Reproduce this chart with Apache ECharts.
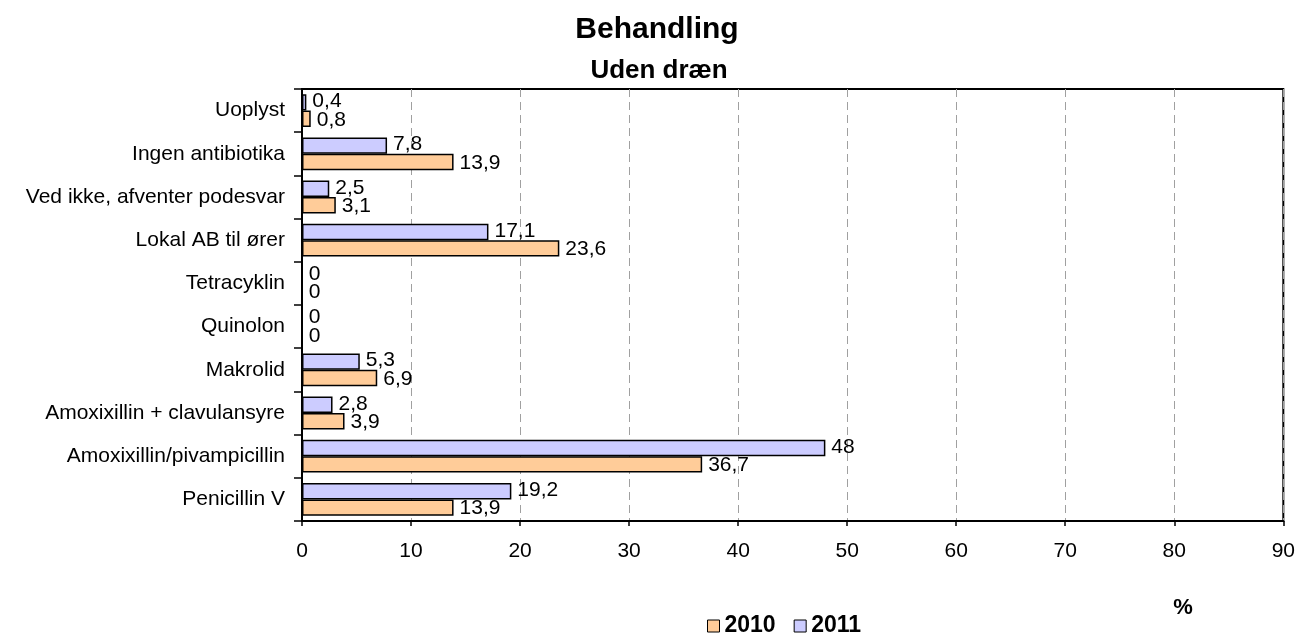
<!DOCTYPE html>
<html>
<head>
<meta charset="utf-8">
<title>Behandling – Uden dræn</title>
<script src="https://cdn.jsdelivr.net/npm/echarts@6/dist/echarts.min.js"></script>
<style>
  html, body { margin: 0; padding: 0; background: #fff; }
  #chart { width: 1298px; height: 635px; }
</style>
</head>
<body>
<div id="chart"></div>
<script>
// Treatment categories, listed bottom to top as drawn on the axis
const categories = [
  'Penicillin V',
  'Amoxixillin/pivampicillin',
  'Amoxixillin + clavulansyre',
  'Makrolid',
  'Quinolon',
  'Tetracyklin',
  'Lokal AB til ører',
  'Ved ikke, afventer podesvar',
  'Ingen antibiotika',
  'Uoplyst'
];

// Share of patients (%) per year
const values2010 = [13.9, 36.7, 3.9, 6.9, 0, 0, 23.6, 3.1, 13.9, 0.8];
const values2011 = [19.2, 48, 2.8, 5.3, 0, 0, 17.1, 2.5, 7.8, 0.4];

const xTicks = { min: 0, max: 90, step: 10 };

const FONT = '"Liberation Sans", Arial, sans-serif';

// Danish decimal comma in the value labels
const fmtComma = p => String(p.value).replace('.', ',');

const chart = echarts.init(document.getElementById('chart'));

const valueLabel = dy => ({
  show: true, position: 'right', distance: 6, offset: [0, dy],
  formatter: fmtComma,
  fontFamily: FONT, fontSize: 21, color: '#000'
});

chart.setOption({
  animation: false,
  textStyle: { fontFamily: FONT, color: '#000' },
  legend: {
    data: ['2010', '2011'],
    left: 702, top: 608,
    padding: 5,
    icon: 'rect',
    itemWidth: 12, itemHeight: 12, itemGap: 18,
    itemStyle: { borderColor: '#000', borderWidth: 1 },
    textStyle: { fontFamily: FONT, fontSize: 23, fontWeight: 'bold', color: '#000', lineHeight: 26 }
  },
  grid: {
    left: 302, right: 14, top: 89, bottom: 114,
    show: true, borderColor: '#000', borderWidth: 2, backgroundColor: 'transparent'
  },
  xAxis: {
    type: 'value',
    min: xTicks.min, max: xTicks.max, interval: xTicks.step,
    axisLine: { show: true, lineStyle: { color: '#000', width: 2 } },
    axisTick: { show: true, length: 5, lineStyle: { color: '#000', width: 1.5 } },
    axisLabel: { fontFamily: FONT, fontSize: 21, color: '#000', margin: 20 },
    splitLine: { show: true, lineStyle: { color: '#a0a0a0', type: [8, 5], width: 1 } }
  },
  yAxis: {
    type: 'category',
    data: categories,
    axisLine: { show: true, lineStyle: { color: '#000', width: 2 } },
    axisTick: { show: true, length: 8, lineStyle: { color: '#000', width: 1.5 } },
    axisLabel: { fontFamily: FONT, fontSize: 21, color: '#000', margin: 17 }
  },
  // 2011 is listed first so it sits above 2010 inside each category band
  series: [
    {
      name: '2011',
      type: 'bar',
      data: values2011,
      barGap: '0%',
      barCategoryGap: '24%',
      itemStyle: { color: '#CCCCFF', borderColor: '#000', borderWidth: 1.5 },
      label: valueLabel(-1)
    },
    {
      name: '2010',
      type: 'bar',
      data: values2010,
      barGap: '0%',
      barCategoryGap: '24%',
      itemStyle: { color: '#FFCC99', borderColor: '#000', borderWidth: 1.5 },
      label: valueLabel(1)
    }
  ],
  graphic: [
    {
      type: 'text', x: 657, y: 30,
      style: { text: 'Behandling', font: 'bold 30px ' + FONT, fill: '#000', align: 'center', verticalAlign: 'middle' }
    },
    {
      type: 'text', x: 659, y: 71,
      style: { text: 'Uden dræn', font: 'bold 26px ' + FONT, fill: '#000', align: 'center', verticalAlign: 'middle' }
    },
    {
      type: 'text', x: 1183, y: 608,
      style: { text: '%', font: 'bold 22px ' + FONT, fill: '#000', align: 'center', verticalAlign: 'middle' }
    }
  ]
});
</script>
</body>
</html>
